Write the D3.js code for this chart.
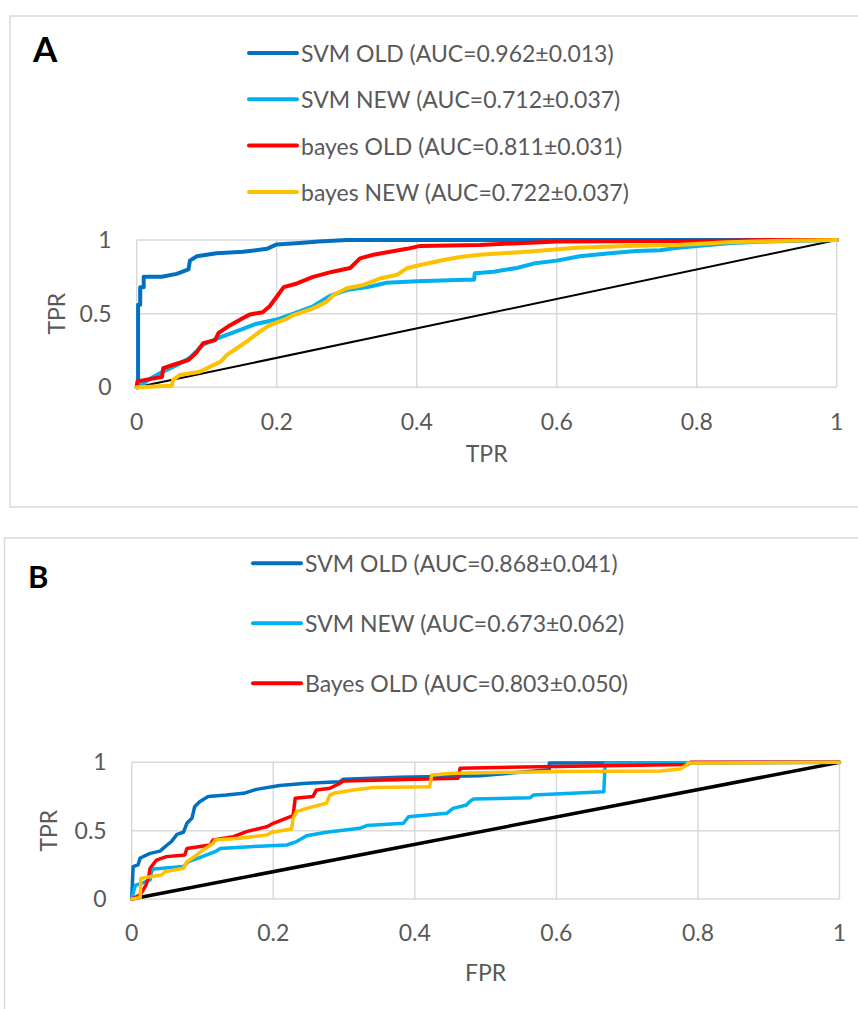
<!DOCTYPE html>
<html lang="en">
<head>
<meta charset="utf-8">
<script src="https://d3js.org/d3.v7.min.js"></script>
<style>
  body { margin: 0; background: #fff; }
  text { font-family: Lato, "Open Sans", sans-serif; fill: #595959; }
</style>
</head>
<body>
<script>
// axis ticks (shared by both panels)
var ticksX = [0, 0.2, 0.4, 0.6, 0.8, 1];
var ticksY = [0, 0.5, 1];
var tickLabelsX = ["0", "0.2", "0.4", "0.6", "0.8", "1"];
var tickLabelsY = ["0", "0.5", "1"];

// legend texts
var namesA = ["SVM OLD (AUC=0.962\u00b10.013)", "SVM NEW (AUC=0.712\u00b10.037)",
              "bayes OLD (AUC=0.811\u00b10.031)", "bayes NEW (AUC=0.722\u00b10.037)"];
var namesB = ["SVM OLD (AUC=0.868\u00b10.041)", "SVM NEW (AUC=0.673\u00b10.062)",
              "Bayes OLD (AUC=0.803\u00b10.050)"];

// panel A curves, [FPR, TPR]
var aSvmOld = [[0,0],[0.002,0],[0.002,0.56],[0.005,0.56],[0.005,0.68],[0.01,0.68],[0.01,0.75],[0.036,0.75],
  [0.057,0.77],[0.074,0.8],[0.076,0.86],[0.086,0.89],[0.114,0.91],[0.152,0.92],[0.186,0.94],[0.2,0.97],
  [0.233,0.98],[0.26,0.99],[0.3,1],[1,1]];
var aSvmNew = [[0,0],[0.02,0.06],[0.033,0.095],[0.057,0.15],[0.076,0.2],[0.095,0.29],[0.12,0.34],[0.148,0.39],
  [0.17,0.43],[0.2,0.46],[0.224,0.5],[0.252,0.55],[0.276,0.62],[0.3,0.66],[0.33,0.68],[0.357,0.71],[0.4,0.72],
  [0.47,0.73],[0.482,0.73],[0.483,0.774],[0.51,0.785],[0.543,0.81],[0.567,0.84],[0.6,0.86],[0.633,0.89],
  [0.676,0.91],[0.714,0.925],[0.748,0.93],[0.77,0.945],[0.8,0.96],[0.85,0.98],[0.9,0.99],[1,1]];
var aBayesOld = [[0,0],[0.001,0.04],[0.02,0.057],[0.036,0.07],[0.038,0.13],[0.057,0.16],[0.074,0.185],[0.086,0.24],
  [0.095,0.3],[0.112,0.32],[0.117,0.37],[0.133,0.42],[0.152,0.47],[0.162,0.495],[0.18,0.51],[0.19,0.55],
  [0.2,0.615],[0.21,0.68],[0.229,0.705],[0.252,0.75],[0.28,0.785],[0.305,0.81],[0.319,0.875],[0.338,0.9],
  [0.362,0.92],[0.386,0.94],[0.405,0.96],[0.49,0.966],[0.6,0.99],[0.843,0.995],[0.9,1],[1,1]];
var aBayesNew = [[0,0],[0.05,0.01],[0.052,0.05],[0.062,0.084],[0.09,0.106],[0.105,0.14],[0.12,0.174],[0.129,0.22],
  [0.143,0.265],[0.157,0.31],[0.176,0.378],[0.19,0.423],[0.21,0.457],[0.224,0.49],[0.252,0.536],[0.271,0.58],
  [0.281,0.627],[0.3,0.672],[0.324,0.695],[0.348,0.74],[0.371,0.762],[0.386,0.808],[0.405,0.83],[0.438,0.864],
  [0.462,0.885],[0.49,0.9],[0.557,0.92],[0.629,0.948],[0.7,0.96],[0.772,0.966],[0.843,0.984],[0.905,0.993],[1,1]];

// panel B curves
var bSvmOld = [[0,0],[0.002,0.237],[0.009,0.25],[0.012,0.3],[0.026,0.334],[0.04,0.35],[0.05,0.395],[0.056,0.42],
  [0.064,0.473],[0.073,0.488],[0.078,0.554],[0.085,0.59],[0.089,0.675],[0.096,0.712],[0.108,0.749],[0.134,0.76],
  [0.158,0.773],[0.176,0.802],[0.209,0.83],[0.247,0.846],[0.294,0.858],[0.299,0.876],[0.379,0.89],[0.492,0.902],
  [0.59,0.945],[0.59,0.995],[1,1]];
var bSvmNew = [[0,0],[0.005,0.1],[0.014,0.115],[0.026,0.14],[0.028,0.2],[0.031,0.22],[0.073,0.237],[0.08,0.273],
  [0.096,0.302],[0.106,0.322],[0.118,0.346],[0.125,0.37],[0.167,0.383],[0.219,0.395],[0.233,0.42],[0.247,0.463],
  [0.275,0.488],[0.322,0.517],[0.332,0.537],[0.384,0.554],[0.391,0.602],[0.445,0.627],[0.454,0.663],[0.473,0.688],
  [0.478,0.715],[0.483,0.732],[0.563,0.741],[0.568,0.761],[0.667,0.785],[0.669,0.995],[0.785,0.997],[1,1]];
var bBayesOld = [[0,0],[0.012,0.03],[0.02,0.1],[0.024,0.163],[0.026,0.224],[0.035,0.285],[0.049,0.31],[0.075,0.322],
  [0.078,0.37],[0.111,0.395],[0.115,0.432],[0.144,0.456],[0.162,0.493],[0.191,0.529],[0.2,0.554],[0.228,0.61],
  [0.231,0.737],[0.256,0.749],[0.261,0.798],[0.28,0.81],[0.294,0.846],[0.299,0.863],[0.461,0.883],[0.464,0.956],
  [0.6,0.97],[0.785,0.983],[0.79,1],[1,1]];
var bBayesNew = [[0,0],[0.012,0.01],[0.013,0.151],[0.026,0.163],[0.042,0.176],[0.047,0.2],[0.073,0.224],[0.078,0.273],
  [0.092,0.322],[0.101,0.359],[0.115,0.407],[0.118,0.432],[0.153,0.444],[0.191,0.468],[0.198,0.488],[0.226,0.512],
  [0.228,0.59],[0.233,0.639],[0.247,0.663],[0.275,0.7],[0.28,0.761],[0.285,0.773],[0.313,0.798],[0.341,0.815],
  [0.421,0.822],[0.424,0.907],[0.454,0.92],[0.605,0.932],[0.747,0.937],[0.775,0.951],[0.784,0.98],[0.786,0.995],[1,1]];

var diagonal = [[0,0],[1,1]];

var colours = ["#0070C0", "#00B0F0", "#FF0000", "#FFC000"];
var gridCol = "#d9d9d9";

var svg = d3.select("body").append("svg")
            .attr("width", 858)
            .attr("height", 1009);

function panel(p) {
        var g = svg.append("g");

        // chart frame (right side runs off the picture)
        g.append("rect")
         .attr("x", p.frame[0]).attr("y", p.frame[1])
         .attr("width", p.frame[2]).attr("height", p.frame[3])
         .attr("fill", "none").attr("stroke", gridCol).attr("stroke-width", 1.5);

        var x = d3.scaleLinear().domain([0, 1]).range([p.left, p.right]);
        var y = d3.scaleLinear().domain([0, 1]).range([p.bottom, p.top]);

        // gridlines
        g.selectAll(".vg").data(ticksX).enter().append("line")
         .attr("x1", d => x(d)).attr("x2", d => x(d))
         .attr("y1", y(0)).attr("y2", y(1))
         .attr("stroke", gridCol).attr("stroke-width", 1.5);
        g.selectAll(".hg").data(ticksY).enter().append("line")
         .attr("x1", x(0)).attr("x2", x(1))
         .attr("y1", d => y(d)).attr("y2", d => y(d))
         .attr("stroke", gridCol).attr("stroke-width", 1.5);

        // tick labels
        g.selectAll(".xl").data(ticksX).enter().append("text")
         .attr("x", d => x(d)).attr("y", y(0) + p.xTickOff)
         .attr("text-anchor", "middle").style("font-size", "23px")
         .text((d, i) => tickLabelsX[i]);
        g.selectAll(".yl").data(ticksY).enter().append("text")
         .attr("x", x(0) - 25).attr("y", d => y(d) + 8)
         .attr("text-anchor", "end").style("font-size", "23px")
         .text((d, i) => tickLabelsY[i]);

        // axis titles
        g.append("text")
         .attr("x", (p.left + p.right) / 2).attr("y", p.xTitleY)
         .attr("text-anchor", "middle").style("font-size", "23px")
         .text(p.xTitle);
        g.append("text")
         .attr("transform", "translate(" + p.yTitleX + "," + (p.top + p.bottom) / 2 + ") rotate(-90)")
         .attr("text-anchor", "middle").style("font-size", "23px")
         .text("TPR");

        var line = d3.line().x(d => x(d[0])).y(d => y(d[1]));

        // chance line
        g.append("path").datum(diagonal)
         .attr("d", line).attr("fill", "none")
         .attr("stroke", "#000").attr("stroke-width", p.diagW);

        // ROC curves
        p.curves.forEach(function(c, i) {
                g.append("path").datum(c)
                 .attr("d", line).attr("fill", "none")
                 .attr("stroke", colours[i]).attr("stroke-width", p.curveW)
                 .attr("stroke-linejoin", "round").attr("stroke-linecap", "round");
        });

        // legend
        p.names.forEach(function(n, i) {
                var ly = p.legY + i * p.legStep;
                g.append("line")
                 .attr("x1", p.legX).attr("x2", p.legX + 48)
                 .attr("y1", ly).attr("y2", ly)
                 .attr("stroke", colours[i]).attr("stroke-width", 4)
                 .attr("stroke-linecap", "round");
                g.append("text")
                 .attr("x", p.legX + 52).attr("y", ly + 9)
                 .style("font-size", "23px")
                 .text(n);
        });

        // panel letter
        g.append("text")
         .attr("x", p.letterX).attr("y", p.letterY)
         .style("font-size", p.letterSize + "px").style("font-weight", "bold")
         .style("fill", "#000")
         .text(p.letter);
}

panel({
        frame: [10, 16, 870, 491],
        left: 136.7, right: 836.7, top: 240, bottom: 387.3,
        xTickOff: 43, xTitleY: 462, xTitle: "TPR", yTitleX: 65,
        diagW: 2, curveW: 4,
        curves: [aSvmOld, aSvmNew, aBayesOld, aBayesNew],
        names: namesA, legX: 249, legY: 53, legStep: 46.3,
        letter: "A", letterX: 33, letterY: 62, letterSize: 35
});

panel({
        frame: [4.5, 538, 870, 500],
        left: 131.7, right: 839.5, top: 762.3, bottom: 899,
        xTickOff: 42, xTitleY: 981, xTitle: "FPR", yTitleX: 57,
        diagW: 3.5, curveW: 3.5,
        curves: [bSvmOld, bSvmNew, bBayesOld, bBayesNew],
        names: namesB, legX: 253, legY: 563.3, legStep: 60,
        letter: "B", letterX: 28, letterY: 588, letterSize: 31
});
</script>
</body>
</html>
